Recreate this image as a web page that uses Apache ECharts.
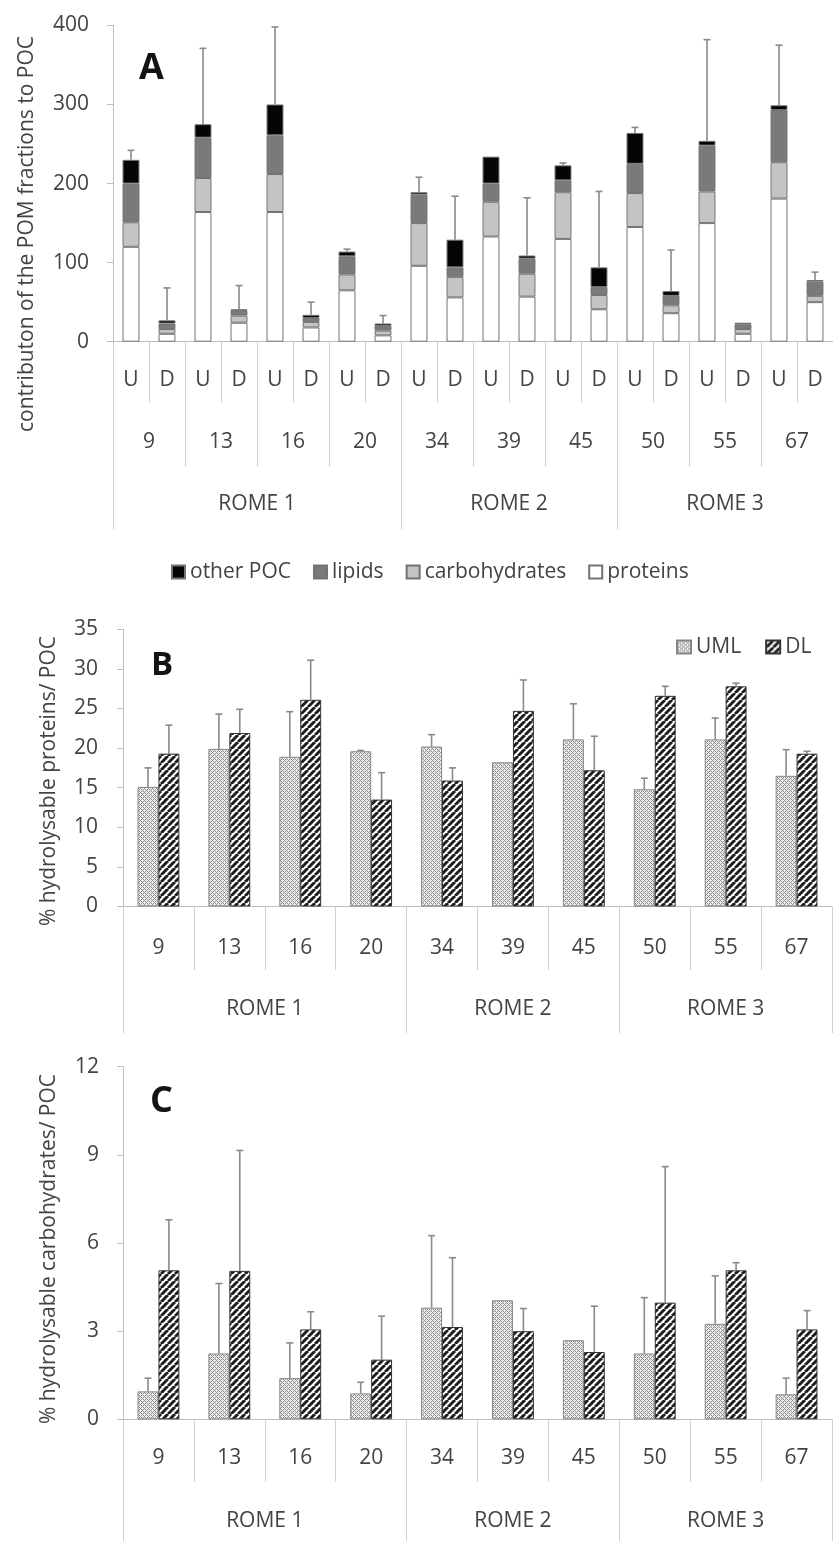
<!DOCTYPE html>
<html>
<head>
<meta charset="utf-8">
<script src="https://cdn.jsdelivr.net/npm/echarts@6/dist/echarts.min.js"></script>
<style>
  html, body { margin: 0; padding: 0; background: #ffffff; overflow: hidden; }
  #chart { width: 833px; height: 1541px; }
</style>
</head>
<body>
<div id="chart"></div>
<script>
// ---------- data ----------
const stations = ['9', '13', '16', '20', '34', '39', '45', '50', '55', '67'];
const layers = ['U', 'D'];
const cruises = ['ROME 1', 'ROME 2', 'ROME 3'];
const stationsPerCruise = [4, 3, 3];

// A: contribution of POM fractions to POC (one value per station/layer, U then D)
const proteins      = [120, 10, 164, 24, 164, 18, 65, 8, 96, 56, 133, 57, 130, 41, 145, 36, 150, 10, 181, 50];
const carbohydrates = [31, 6, 43, 9, 48, 7, 20, 6, 54, 26, 44, 29, 59, 18, 43, 10, 40, 6, 46, 8];
const lipids        = [49, 7, 51, 6, 49, 5, 23, 6, 36, 12, 23, 19, 15, 10, 37, 12, 58, 6, 66, 18];
const otherPOC      = [30, 4, 17, 2, 39, 4, 6, 3, 3, 35, 34, 4, 19, 25, 39, 6, 6, 2, 6, 2];
const pocSD         = [12, 41, 96, 30, 98, 16, 3, 10, 19, 55, 0, 73, 3, 96, 7, 52, 128, 0, 76, 10];

// B: % hydrolysable proteins / POC
const protUML   = [15.1, 19.9, 18.9, 19.6, 20.2, 18.2, 21.1, 14.8, 21.1, 16.5];
const protUMLsd = [2.4, 4.4, 5.7, 0.1, 1.5, 0, 4.5, 1.4, 2.7, 3.3];
const protDL    = [19.3, 21.9, 26.1, 13.5, 15.9, 24.7, 17.2, 26.6, 27.8, 19.3];
const protDLsd  = [3.6, 3.0, 5.0, 3.4, 1.6, 3.9, 4.3, 1.2, 0.4, 0.3];

// C: % hydrolysable carbohydrates / POC
const carbUML   = [0.95, 2.24, 1.4, 0.88, 3.8, 4.05, 2.69, 2.24, 3.25, 0.85];
const carbUMLsd = [0.45, 2.38, 1.2, 0.38, 2.45, 0, 0, 1.9, 1.63, 0.55];
const carbDL    = [5.07, 5.05, 3.06, 2.03, 3.14, 3.0, 2.29, 3.97, 5.07, 3.06];
const carbDLsd  = [1.72, 4.1, 0.6, 1.48, 2.36, 0.77, 1.56, 4.63, 0.26, 0.64];

// A y-axis ticks, B y-axis ticks, C y-axis ticks
const ticksA = { min: 0, max: 400, step: 100 };
const ticksB = { min: 0, max: 35, step: 5 };
const ticksC = { min: 0, max: 12, step: 3 };

// ---------- derived ----------
const slotLabels = [];
stations.forEach(() => layers.forEach(l => slotLabels.push(l)));

const cruiseBounds = [0];
stationsPerCruise.forEach(n => cruiseBounds.push(cruiseBounds[cruiseBounds.length - 1] + n));
const cruiseCentres = cruises.map((_, i) => (cruiseBounds[i] + cruiseBounds[i + 1]) / 2);

const totalsA = proteins.map((p, i) => p + carbohydrates[i] + lipids[i] + otherPOC[i]);

// ---------- styling ----------
const FONT = "'Open Sans', sans-serif";
const TEXT = '#434343';
const AXIS = '#bdbdbd';
const SEP = '#d0d0d0';
const ERR = '#8a8a8a';

function dotPattern() {
  const c = document.createElement('canvas');
  c.width = c.height = 4;
  const g = c.getContext('2d');
  g.fillStyle = '#eeeeee';
  g.fillRect(0, 0, 4, 4);
  g.fillStyle = '#8e8e8e';
  [[0, 0], [1, 1], [2, 2], [3, 3], [1, 3], [3, 1]].forEach(([x, y]) => g.fillRect(x, y, 1, 1));
  return c;
}
function hatchPattern() {
  const s = 7;
  const c = document.createElement('canvas');
  c.width = c.height = s;
  const g = c.getContext('2d');
  g.fillStyle = '#ffffff';
  g.fillRect(0, 0, s, s);
  g.strokeStyle = '#1e1e1e';
  g.lineWidth = 3;
  [-1, 0, 1].forEach(k => {
    g.beginPath();
    g.moveTo(k * s, s);
    g.lineTo(k * s + s, 0);
    g.stroke();
  });
  return c;
}
const umlFill = { image: dotPattern(), repeat: 'repeat' };
const dlFill = { image: hatchPattern(), repeat: 'repeat' };

const labelStyle = { color: TEXT, fontFamily: FONT, fontSize: 21 };

function yAxis(grid, t, margin) {
  return {
    type: 'value', gridIndex: grid, min: t.min, max: t.max, interval: t.step,
    axisLine: { show: true, lineStyle: { color: AXIS, width: 1 } },
    axisTick: { show: true, length: 6, lineStyle: { color: AXIS } },
    splitLine: { show: false },
    axisLabel: Object.assign({ margin: margin }, labelStyle)
  };
}
function categoryAxis(grid, data, tickLen, margin, showLine) {
  return {
    type: 'category', gridIndex: grid, data: data, position: 'bottom',
    axisLine: { show: showLine, onZero: false, lineStyle: { color: AXIS, width: 1 } },
    axisTick: { show: true, interval: 0, length: tickLen, lineStyle: { color: SEP } },
    axisLabel: Object.assign({ interval: 0, margin: margin }, labelStyle),
    splitLine: { show: false }
  };
}
function cruiseAxis(grid, tickLen, margin) {
  return {
    type: 'value', gridIndex: grid, min: 0, max: stations.length, position: 'bottom',
    axisLine: { show: false, onZero: false },
    splitLine: { show: false },
    axisTick: { show: true, length: tickLen, customValues: cruiseBounds, lineStyle: { color: SEP } },
    axisLabel: Object.assign({
      margin: margin,
      customValues: cruiseCentres,
      formatter: v => cruises[cruiseCentres.indexOf(v)] || ''
    }, labelStyle)
  };
}

// vertical error whisker with a short cap; offset is a fraction of the band width
function whisker(offset) {
  return function (params, api) {
    const sd = api.value(2);
    if (!(sd > 0)) return null;
    const x = api.value(0);
    const v = api.value(1);
    const base = api.coord([x, v]);
    const top = api.coord([x, v + sd]);
    const band = api.size([1, 0])[0];
    const cx = base[0] + offset * band;
    const st = { stroke: ERR, lineWidth: 1.6 };
    return {
      type: 'group',
      children: [
        { type: 'line', shape: { x1: cx, y1: base[1], x2: cx, y2: top[1] }, style: st },
        { type: 'line', shape: { x1: cx - 3.5, y1: top[1], x2: cx + 3.5, y2: top[1] }, style: st }
      ]
    };
  };
}
function errorSeries(xi, yi, values, sds, offset) {
  return {
    type: 'custom', xAxisIndex: xi, yAxisIndex: yi, z: 5, silent: true, clip: false,
    renderItem: whisker(offset),
    encode: { x: 0, y: 1 },
    data: values.map((v, i) => [i, v, sds[i]])
  };
}

const groupGap = 0.41;               // share of a station band left empty in B and C
const barShift = (1 - groupGap) / 4;   // centre of each bar from the band centre

const stackBorder = { borderColor: '#727272', borderWidth: 1 };

const option = {
  animation: false,
  backgroundColor: '#ffffff',
  textStyle: { fontFamily: FONT },
  grid: [
    { left: 113, top: 25.4, width: 727, height: 316.3 },
    { left: 123, top: 629.3, width: 709, height: 277.2 },
    { left: 123, top: 1066.7, width: 709, height: 352.6 }
  ],
  legend: [
    {
      data: ['other POC', 'lipids', 'carbohydrates', 'proteins'],
      left: 166, top: 555, itemWidth: 13, itemHeight: 13, itemGap: 22,
      icon: 'rect', selectedMode: false,
      textStyle: { color: TEXT, fontFamily: FONT, fontSize: 21, lineHeight: 24 }
    },
    {
      data: ['UML', 'DL'],
      left: 671, top: 630, itemWidth: 14, itemHeight: 13, itemGap: 24,
      icon: 'rect', selectedMode: false,
      textStyle: { color: TEXT, fontFamily: FONT, fontSize: 21, lineHeight: 24 }
    }
  ],
  xAxis: [
    categoryAxis(0, slotLabels, 61, 28, true),     // 0: U / D
    categoryAxis(0, stations, 125, 90, false),     // 1: stations
    cruiseAxis(0, 188, 152),                       // 2: cruises
    categoryAxis(1, stations, 63.5, 31, true),     // 3
    cruiseAxis(1, 126.5, 92),                      // 4
    categoryAxis(2, stations, 62.5, 28, true),     // 5
    cruiseAxis(2, 140, 91)                         // 6
  ],
  yAxis: [
    yAxis(0, ticksA, 24),
    yAxis(1, ticksB, 25),
    yAxis(2, ticksC, 24)
  ],
  graphic: [
    { type: 'text', x: 27, y: 234, rotation: Math.PI / 2,
      style: { text: 'contributon of the POM fractions to POC', fill: TEXT, font: "21px 'Open Sans', sans-serif", textAlign: 'center', textVerticalAlign: 'middle' } },
    { type: 'text', x: 49, y: 781, rotation: Math.PI / 2,
      style: { text: '% hydrolysable proteins/ POC', fill: TEXT, font: "21px 'Open Sans', sans-serif", textAlign: 'center', textVerticalAlign: 'middle' } },
    { type: 'text', x: 49, y: 1249, rotation: Math.PI / 2,
      style: { text: '% hydrolysable carbohydrates/ POC', fill: TEXT, font: "21px 'Open Sans', sans-serif", textAlign: 'center', textVerticalAlign: 'middle' } },
    { type: 'text', x: 151.5, y: 69,
      style: { text: 'A', fill: '#141414', font: "bold 36px 'Open Sans', sans-serif", textAlign: 'center', textVerticalAlign: 'middle' } },
    { type: 'text', x: 162, y: 666,
      style: { text: 'B', fill: '#141414', font: "bold 33px 'Open Sans', sans-serif", textAlign: 'center', textVerticalAlign: 'middle' } },
    { type: 'text', x: 161.5, y: 1102,
      style: { text: 'C', fill: '#141414', font: "bold 36px 'Open Sans', sans-serif", textAlign: 'center', textVerticalAlign: 'middle' } }
  ],
  series: [
    // A: stacked fractions
    { name: 'proteins', type: 'bar', stack: 'poc', xAxisIndex: 0, yAxisIndex: 0, barCategoryGap: '53%',
      itemStyle: Object.assign({ color: '#ffffff' }, stackBorder), data: proteins },
    { name: 'carbohydrates', type: 'bar', stack: 'poc', xAxisIndex: 0, yAxisIndex: 0, barCategoryGap: '53%',
      itemStyle: Object.assign({ color: '#c4c4c4' }, stackBorder), data: carbohydrates },
    { name: 'lipids', type: 'bar', stack: 'poc', xAxisIndex: 0, yAxisIndex: 0, barCategoryGap: '53%',
      itemStyle: Object.assign({ color: '#7a7a7a' }, stackBorder), data: lipids },
    { name: 'other POC', type: 'bar', stack: 'poc', xAxisIndex: 0, yAxisIndex: 0, barCategoryGap: '53%',
      itemStyle: Object.assign({ color: '#050505' }, stackBorder), data: otherPOC },
    errorSeries(0, 0, totalsA, pocSD, 0),

    // B: proteins
    { name: 'UML', type: 'bar', xAxisIndex: 3, yAxisIndex: 1, barGap: '0%', barCategoryGap: '41%',
      itemStyle: { color: umlFill, borderColor: '#858585', borderWidth: 1 }, data: protUML },
    { name: 'DL', type: 'bar', xAxisIndex: 3, yAxisIndex: 1, barGap: '0%', barCategoryGap: '41%',
      itemStyle: { color: dlFill, borderColor: '#333333', borderWidth: 1 }, data: protDL },
    errorSeries(3, 1, protUML, protUMLsd, -barShift),
    errorSeries(3, 1, protDL, protDLsd, barShift),

    // C: carbohydrates
    { name: 'UML', type: 'bar', xAxisIndex: 5, yAxisIndex: 2, barGap: '0%', barCategoryGap: '41%',
      itemStyle: { color: umlFill, borderColor: '#858585', borderWidth: 1 }, data: carbUML },
    { name: 'DL', type: 'bar', xAxisIndex: 5, yAxisIndex: 2, barGap: '0%', barCategoryGap: '41%',
      itemStyle: { color: dlFill, borderColor: '#333333', borderWidth: 1 }, data: carbDL },
    errorSeries(5, 2, carbUML, carbUMLsd, -barShift),
    errorSeries(5, 2, carbDL, carbDLsd, barShift)
  ]
};

const chart = echarts.init(document.getElementById('chart'), null, { renderer: 'canvas' });
chart.setOption(option);
</script>
</body>
</html>
